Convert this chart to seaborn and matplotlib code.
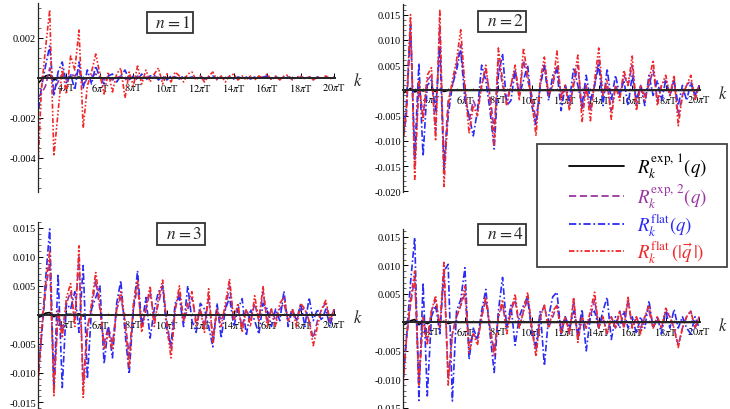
import numpy as np
import matplotlib
matplotlib.use("Agg")
import matplotlib.pyplot as plt
from matplotlib.ticker import MultipleLocator, FixedLocator
from matplotlib.lines import Line2D
from matplotlib.patches import Rectangle
import seaborn as sns

# momentum grid, in units of pi*T
k = np.arange(2.25, 20.01, 0.25)

# all values below in units of 1e-3
# ---- n = 1 ----
black_n1 = [-0.3, -0.1, 0.1, 0.15, -0.1, 0.0, 0.05, 0.0, 0.05, 0.0, 0.05, -0.05,
            0, 0, 0, 0, 0, 0, 0, 0, 0, 0, 0, 0,
            0, 0, 0, 0, 0, 0, 0, 0, 0, 0, 0, 0,
            0, 0, 0, 0, 0, 0, 0, 0, 0, 0, 0, 0,
            0, 0, 0, 0, 0, 0, 0, 0, 0, 0, 0, 0,
            0, 0, 0, 0, 0, 0, 0, 0, 0, 0, 0, 0]
purple_n1 = [-1.0, -0.8, -0.4, 0.5, -0.6, -0.2, 0.2, -0.1, 0.2, 0.1, 0.4, -0.4,
             0.0, 0.1, 0.2, 0.0, -0.1, 0.0, -0.1, 0.0, 0.1, -0.1, 0.05, -0.05,
             0.1, -0.05, 0.05, 0.0, 0.05, 0.05, -0.05, 0.0, 0.0, 0.05, 0.0, 0.0,
             0, 0, 0, 0, 0, 0, 0, 0, 0, 0, 0, 0,
             0, 0, 0, 0, 0, 0, 0, 0, 0, 0, 0, 0,
             0, 0, 0, 0, 0, 0, 0, 0, 0, 0, 0, 0]
blue_n1 = [-2.2, -0.5, 0.6, 1.6, -0.9, 0.3, 0.8, -0.3, 0.2, -0.6, 0.8, -0.5,
           0.4, -0.3, 0.6, 0.0, -0.3, 0.1, 0.2, -0.2, 0.1, 0.4, -0.1, 0.1,
           -0.1, 0.2, -0.1, 0.1, 0.15, -0.1, 0.1, -0.1, 0.1, 0.05, -0.05, 0.1,
           0.0, 0.05, -0.05, 0.1, -0.05, 0.05, 0.1, -0.05, 0.05, 0.0, 0.05, -0.05,
           0.05, 0.0, 0.05, -0.05, 0.05, 0.0, 0.05, 0.1, -0.05, 0.05, 0.0, 0.05,
           0.05, -0.05, 0.0, 0.05, 0.0, 0.05, -0.05, 0.05, 0.0, 0.05, 0.0, 0.05]
red_n1 = [-5.5, -0.6, 1.5, 3.4, -3.9, -1.7, 0.5, -0.8, 1.1, 0.4, 2.4, -2.5,
          -0.4, 0.3, 1.2, 0.2, -0.8, 0.3, -0.7, 0.2, 0.5, -1.0, 0.3, -0.4,
          0.6, -0.3, 0.4, -0.2, 0.2, 0.5, -0.3, 0.2, -0.2, 0.3, 0.1, -0.2,
          0.2, 0.3, -0.1, 0.1, -0.2, 0.1, 0.3, -0.1, 0.1, -0.2, 0.1, 0.2,
          -0.1, 0.1, -0.1, 0.1, -0.1, 0.1, 0.0, 0.2, -0.1, 0.1, -0.1, 0.1,
          0.15, -0.1, 0.05, 0.1, -0.05, 0.1, -0.1, 0.05, 0.0, 0.1, -0.05, 0.05]

# ---- n = 2 ----
black_n2 = [-0.6, -0.2, 0.4, -0.3, 0.1, -0.1, 0.1, 0.1, -0.2, 0.2, -0.2, 0.0,
            0, 0, 0, 0, 0, 0, 0, 0, 0, 0, 0, 0,
            0, 0, 0, 0, 0, 0, 0, 0, 0, 0, 0, 0,
            0, 0, 0, 0, 0, 0, 0, 0, 0, 0, 0, 0,
            0, 0, 0, 0, 0, 0, 0, 0, 0, 0, 0, 0,
            0, 0, 0, 0, 0, 0, 0, 0, 0, 0, 0, 0]
purple_n2 = [-11, -5, 13, -15, 1, -5, 2, 3, -8, 13, -15, -2,
             1, 5, 9, 0, -6, -2, -4, 1, 4, -1, -8, 6,
             1, -2, 1, 4, -1, 6, 2, -1, -6, 1, 5, -1,
             1, 5, -1, 1, -3, 1, 5, -4, 1, -4, 1, 6,
             -1, 1, -4, 1, -1, 3, 1, 5, -3, 1, -1, 1,
             4, -2, 1, 2, -1, 2, -5, -1, 1, 2, -1, 1]
blue_n2 = [-11, -3, 13, -13, 5.4, -13, 1, 2, -4, 8.8, -16, -5,
           1, 4, 8, -2, -5, -9, -4, 5, 2, -4, -11.6, 3,
           7.3, -3, -2, 4, -1, 2, 5, -3, -7, 1, 5, -2,
           3, 4, -4, 1, -2, 4.5, 1, -3, 3, -2, 1, 5,
           -3, 4.3, -2, 3, -1, 2, -3, 3, -2, 1, -3, 3,
           -1, 2, -2, 2, -1, 2, -3, 1, -2, 1.5, -1, 1]
red_n2 = [-12, -4, 15, -17.6, 2, -6, 3, 4.5, -10, 16, -19, -3,
          2, 6, 12, 1, -8.5, -3, -5, 1, 5, -2, -11, 8.4,
          2, -3, 1, 5, -2, 8.4, 3, -2, -9, 2, 6.6, -1,
          1, 7.8, -2, 1, -4, 2, 7, -6.3, 1, -6, 2, 8.4,
          -1, 2, -5.7, 1, -2, 4, 1, 6.8, -4, 1, -2, 2,
          6, -3, 1, 3, -1, 3, -7, -1, 1, 3, -2, 1]

# ---- n = 3 ----
black_n3 = [-0.5, -0.2, 0.3, 0.4, -0.3, 0.1, -0.1, 0.1, 0.1, 0.0, 0.2, -0.2,
            0, 0, 0, 0, 0, 0, 0, 0, 0, 0, 0, 0,
            0, 0, 0, 0, 0, 0, 0, 0, 0, 0, 0, 0,
            0, 0, 0, 0, 0, 0, 0, 0, 0, 0, 0, 0,
            0, 0, 0, 0, 0, 0, 0, 0, 0, 0, 0, 0,
            0, 0, 0, 0, 0, 0, 0, 0, 0, 0, 0, 0]
purple_n3 = [-13, -4, 4, 9, -12, 0, -3, 2, 4, -1, 10, -12,
             -2, 1, 6, 1, -5, -2, -5, 1, 3, -1, -7, 1,
             5, -2, 1, 4, -1, 2, 5, -1, -6, 1, 4, -1,
             1, 3, -1, 1, -2, 3, -4, 1, -1, 1, 5, -1,
             1, -2, 1, -1, 2, -1, 4, -1, 1, -1, 1, 2,
             -1, 1, -1, 1, 1, -1, -4, -1, 1, 2, -1, 1]
blue_n3 = [-12, -4, 6, 14.8, -13, 7.1, -12.5, 2, 1, 4, -3, 8.5,
           -11, 1, 3, 5, -8.4, -2, -7.4, 2, 5.9, -3, -10.2, 1,
           7.6, -2, 3, -4, 1, 4, 5, -3, -5, 2, 3, -2,
           5, -1, -3, 2, 1, -2, -5.5, 2, -4, 1, 3, -2,
           1, 2.8, -3.6, 1, -1, -3.3, 2, 1, -2, 1, -1, 4.1,
           -2, 1, -1, 2, -2, 3, -1, 1, -1, 1, -2, 1]
red_n3 = [-14.8, -3, 5, 11, -13.9, 1, -4, 3, 5.4, -2, 11.9, -14.2,
          -3, 2, 7.3, 2, -6, -3, -6, 1, 4, -1, -9, 2,
          6, -3, 1, 5, -2, 3, 6, -2, -7.4, 1, 5, -1,
          2, 4, -2, 1, -3, 4.5, -5, 1, -2, 2, 6.2, -1,
          2, -3, 1, -2, 3.3, -1, 5, -2, 1, -2, 2, 3,
          -1, 1, -2, 2, 1, -1, -5.3, -2, 1, 2.5, -1, 1]

# ---- n = 4 ----
black_n4 = [-0.5, -0.2, 0.3, 0.5, -0.4, 0.1, -0.2, 0.1, 0.1, 0.0, 0.2, -0.2,
            0, 0, 0, 0, 0, 0, 0, 0, 0, 0, 0, 0,
            0, 0, 0, 0, 0, 0, 0, 0, 0, 0, 0, 0,
            0, 0, 0, 0, 0, 0, 0, 0, 0, 0, 0, 0,
            0, 0, 0, 0, 0, 0, 0, 0, 0, 0, 0, 0,
            0, 0, 0, 0, 0, 0, 0, 0, 0, 0, 0, 0]
purple_n4 = [-12, -3, 3, 8, -10, 1, -3, 2, 4, -1, 9, -10,
             -2, 1, 3, 5, -4, -2, -3, 1, 4, -1, -5, 1,
             3, -1, 2, 4, -1, 2, 4, -1, -5, 1, 3, -1,
             1, 3, -1, 1, -2, 4, -3, 1, -1, 1, 4, -1,
             1, -2, 1, -1, 2, -1, 4, -1, 1, -1, 1, 2,
             -1, 1, -1, 2, 1, -1, -4, -1, 1, 2, -1, 1]
blue_n4 = [-12, -3, 7, 14.9, -13.7, 7, -12.9, 1, 3, -2, 9, 10.2,
           -13.8, 2, 4, 9.6, -6.5, -1, -3, 2, 5.8, -2, -8.8, 2,
           7.9, -1, 3, -4, 1, 3, 4.5, -2, -4, 2, -7.6, 1,
           4.5, 5.3, -2, 1, -1, 2, -2, 2.3, -5, 1, 2, -1,
           2, 4.4, -3, 1, -1, 2, -1, 1, -2, 1, -1, 3.8,
           -1, 1, -2, 2, -1, 2.3, -1, 1, -1, -2, 1, -1]
red_n4 = [-14, -3, 4, 9, -11, 1, -4, 2, 4.7, -1, 10.8, -11,
          -2, 1, 3, 6.4, -5.3, -2, -4, 1, 4.5, -1, -6, 1,
          4, -2, 2, 5, -1, 2, 5.3, -1, -6, 1, 3, -1,
          2, 3, -2, 1, -2, 4.4, -3.5, 1, -1, 2, 5.3, -1,
          1, -2, 1, -1, 2, -1, 4.4, -1, 1, -2, 1, 3,
          -1, 1, -1, 2.5, 1, -1, -4.4, -1, 1, 2, -1, 1]

xtick_vals = [4, 6, 8, 10, 12, 14, 16, 18, 20]
xtick_labels = [f"${v}\\pi$T" for v in xtick_vals]

yticks_n1 = [-0.004, -0.002, 0.002]
yticks_n234 = [-0.020, -0.015, -0.010, -0.005, 0.005, 0.010, 0.015]

legend_labels = [r"$R_k^{\mathrm{exp},\,1}(q)$", r"$R_k^{\mathrm{exp},\,2}(q)$",
                 r"$R_k^{\mathrm{flat}}(q)$", r"$R_k^{\mathrm{flat}}\,(|\vec{q}\,|)$"]

col_black, col_purple, col_blue, col_red = "black", "#9b35a3", "#2b2bf5", "#f0282a"
ls_black = "-"
ls_purple = (0, (4, 2))
ls_blue = (0, (4, 1.5, 1, 1.5))
ls_red = (0, (3, 1.2, 1, 1.2, 1, 1.2))

sns.set_style("ticks")
plt.rcParams['font.family'] = ['Liberation Serif', 'DejaVu Serif']
plt.rcParams['mathtext.fontset'] = 'stix'

W, H = 730, 410
fig = plt.figure(figsize=(7.3, 4.1), dpi=100)


def px_axes(x0, y0, x1, y1):
    return fig.add_axes([x0 / W, 1 - y1 / H, (x1 - x0) / W, (y1 - y0) / H])


def draw_panel(ax, black, purple, blue, red, ylim, yticks, minor):
    series = [(black, col_black, ls_black), (purple, col_purple, ls_purple),
              (blue, col_blue, ls_blue), (red, col_red, ls_red)]
    for vals, c, ls in series:
        sns.lineplot(x=k, y=np.array(vals) * 1e-3, ax=ax, color=c, linestyle=ls,
                     linewidth=1.2, estimator=None, sort=False, legend=False)
    ax.set_xlim(2.3, 20.05)
    ax.set_ylim(*ylim)
    for s in ["top", "right"]:
        ax.spines[s].set_visible(False)
    ax.spines["bottom"].set_position(("data", 0))
    ax.spines["bottom"].set_linewidth(1.4)
    ax.spines["left"].set_linewidth(0.9)
    ax.spines["bottom"].set_zorder(5)
    ax.set_xticks(xtick_vals)
    ax.set_xticklabels(xtick_labels, fontsize=7.5)
    ax.xaxis.set_minor_locator(MultipleLocator(0.5))
    ax.yaxis.set_major_locator(FixedLocator(yticks))
    ax.set_yticklabels([f"{v:.3f}" for v in yticks], fontsize=7.5)
    ax.yaxis.set_minor_locator(MultipleLocator(minor))
    ax.tick_params(axis="both", which="major", direction="in", length=3.5, width=0.7,
                   pad=1.5, colors="black")
    ax.tick_params(axis="both", which="minor", direction="in", length=1.8, width=0.5)
    ax.tick_params(axis="x", which="major", pad=2)
    ax.set_xlabel("")
    ax.set_ylabel("")
    ax.patch.set_alpha(0)
    ax.annotate("$k$", xy=(1.0, 0), xycoords=("axes fraction", "data"),
                xytext=(13, -2), textcoords="offset points", fontsize=12,
                ha="left", va="center", annotation_clip=False)


ax1 = px_axes(38, 4, 335, 193)
draw_panel(ax1, black_n1, purple_n1, blue_n1, red_n1, (-0.0057, 0.00375), yticks_n1, 0.0005)
ax2 = px_axes(403, 5, 700, 193)
draw_panel(ax2, black_n2, purple_n2, blue_n2, red_n2, (-0.0201, 0.0171), yticks_n234, 0.001)
ax3 = px_axes(38, 223, 335, 410)
draw_panel(ax3, black_n3, purple_n3, blue_n3, red_n3, (-0.0162, 0.0160), yticks_n234[1:], 0.001)
ax4 = px_axes(403, 230, 700, 410)
draw_panel(ax4, black_n4, purple_n4, blue_n4, red_n4, (-0.0152, 0.0164), yticks_n234[1:], 0.001)

# panel labels
for (cx, cy), n in zip([(170, 23.5), (502, 22.5), (181, 235), (502, 235.5)], [1, 2, 3, 4]):
    fig.text(cx / W, 1 - cy / H, f"$\\;\\;n = {n}\\;\\;$", fontsize=12.5, ha="center", va="center",
             bbox=dict(boxstyle="square,pad=0.15", fc="white", ec="#333333", lw=1.3),
             zorder=10)

# legend: frame drawn separately so the padding matches the reference
fig.patches.append(Rectangle((537 / W, 1 - 268 / H), 190 / W, 123 / H,
                             transform=fig.transFigure, fc="white", ec="#444444",
                             lw=1.3, zorder=15))
handles = [Line2D([], [], color=col_black, ls=ls_black, lw=1.3),
           Line2D([], [], color=col_purple, ls=ls_purple, lw=1.3),
           Line2D([], [], color=col_blue, ls=ls_blue, lw=1.3),
           Line2D([], [], color=col_red, ls=ls_red, lw=1.3)]
leg = fig.legend(handles, legend_labels, loc="center left",
                 bbox_to_anchor=(560 / W, 1 - 209 / H), fontsize=13.5, frameon=False,
                 handlelength=2.9, labelspacing=0.05, borderpad=0, handletextpad=0.7)
for txt, c in zip(leg.get_texts(), [col_black, col_purple, col_blue, col_red]):
    txt.set_color(c)
leg.set_zorder(20)

fig.savefig("out.png", dpi=100)
